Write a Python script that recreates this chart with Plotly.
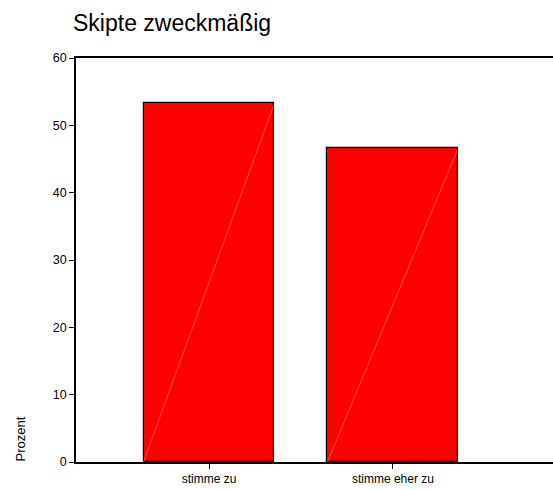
import plotly.graph_objects as go

categories = ["stimme zu", "stimme eher zu"]
values = [53.3, 46.7]
y_ticks = [0, 10, 20, 30, 40, 50, 60]
title_text = "Skipte zweckmäßig"
y_title = "Prozent"

bar_width = 0.712
font = "Liberation Sans, Arial, sans-serif"

fig = go.Figure()
fig.add_trace(go.Bar(
    x=list(range(len(categories))), y=values, width=bar_width,
    marker=dict(color="#ff0000", line=dict(color="black", width=1.2)),
    showlegend=False, hoverinfo="skip"))

# faint diagonal hatch line inside each bar, derived from the data
for i, v in enumerate(values):
    fig.add_trace(go.Scatter(
        x=[i - bar_width / 2, i + bar_width / 2], y=[0, v], mode="lines",
        line=dict(color="rgba(255,170,170,0.8)", width=0.6),
        showlegend=False, hoverinfo="skip"))

fig.update_layout(
    width=553, height=490,
    margin=dict(l=76, r=0, t=58, b=28),
    paper_bgcolor="white", plot_bgcolor="white",
    font=dict(family=font, color="black", size=12),
    bargap=0,
    xaxis=dict(range=[-0.723, 1.87], tickmode="array",
               tickvals=list(range(len(categories))), ticktext=categories,
               ticks="outside", ticklen=5, tickwidth=1.2, tickcolor="black",
               showline=True, linecolor="black", linewidth=1.5, mirror=True,
               showgrid=False, zeroline=False, tickfont=dict(size=12)),
    yaxis=dict(range=[0, 60], tickvals=y_ticks, ticks="outside", ticklen=5,
               tickwidth=1.2, tickcolor="black", showline=True, linecolor="black",
               linewidth=1.5, showgrid=False, zeroline=False,
               tickfont=dict(size=12.5)),
    annotations=[
        dict(text=title_text, xref="paper", yref="paper", x=0, y=1,
             xanchor="left", yanchor="bottom", yshift=20, xshift=-5,
             showarrow=False, font=dict(size=23, family=font)),
        dict(text=y_title, xref="paper", yref="paper", x=0, y=0,
             xanchor="center", yanchor="bottom", xshift=-56, yshift=-2,
             textangle=-90, showarrow=False, font=dict(size=13, family=font)),
    ],
)

fig.write_html("out.html", config={"displayModeBar": False},
               post_script="document.body.style.margin='0';"
                           "document.body.style.overflow='hidden';")
